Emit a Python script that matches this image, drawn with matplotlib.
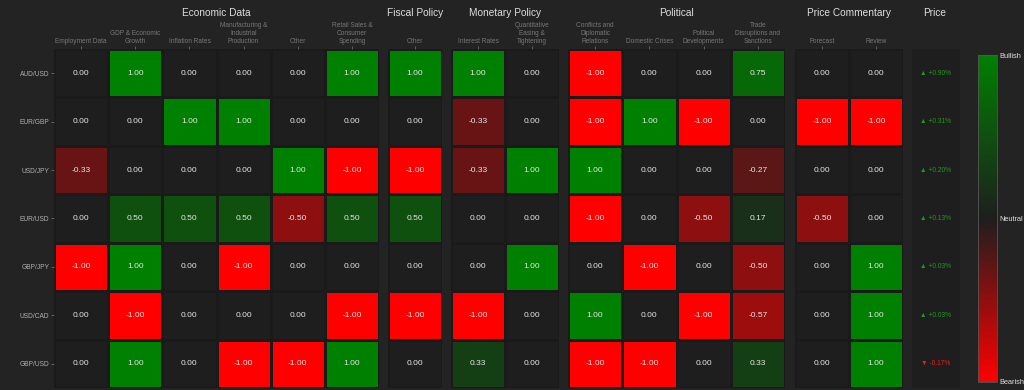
import numpy as np
import matplotlib
matplotlib.use('Agg')
import matplotlib.pyplot as plt
from matplotlib.colors import LinearSegmentedColormap

plt.rcParams['font.family'] = ['Liberation Sans', 'DejaVu Sans']

pairs = ['AUD/USD', 'EUR/GBP', 'USD/JPY', 'EUR/USD', 'GBP/JPY', 'USD/CAD', 'GBP/USD']

groups = ['Economic Data', 'Fiscal Policy', 'Monetary Policy', 'Political', 'Price Commentary']
group_cols = [
    ['Employment Data', 'GDP & Economic\nGrowth', 'Inflation Rates',
     'Manufacturing &\nIndustrial\nProduction', 'Other', 'Retail Sales &\nConsumer\nSpending'],
    ['Other'],
    ['Interest Rates', 'Quantitative\nEasing &\nTightening'],
    ['Conflicts and\nDiplomatic\nRelations', 'Domestic Crises', 'Political\nDevelopments',
     'Trade\nDisruptions and\nSanctions'],
    ['Forecast', 'Review'],
]

economic = [[0, 1, 0, 0, 0, 1],
            [0, 0, 1, 1, 0, 0],
            [-0.33, 0, 0, 0, 1, -1],
            [0, 0.5, 0.5, 0.5, -0.5, 0.5],
            [-1, 1, 0, -1, 0, 0],
            [0, -1, 0, 0, 0, -1],
            [0, 1, 0, -1, -1, 1]]
fiscal = [[1], [0], [-1], [0.5], [0], [-1], [0]]
monetary = [[1, 0], [-0.33, 0], [-0.33, 1], [0, 0], [0, 1], [-1, 0], [0.33, 0]]
political = [[-1, 0, 0, 0.75],
             [-1, 1, -1, 0],
             [1, 0, 0, -0.27],
             [-1, 0, -0.5, 0.17],
             [0, -1, 0, -0.5],
             [1, 0, -1, -0.57],
             [-1, -1, 0, 0.33]]
commentary = [[0, 0], [-1, -1], [0, 0], [-0.5, 0], [0, 1], [0, 1], [0, 1]]
price_change = [0.90, 0.31, 0.20, 0.13, 0.03, 0.03, -0.17]

group_data = [economic, fiscal, monetary, political, commentary]

W, H = 1024, 390
bg = '#232323'
cell_bg = '#1e1e1e'
cmap = LinearSegmentedColormap.from_list('bb', ['#ff0000', '#1e1e1e', '#008000'])

fig = plt.figure(figsize=(W / 100, H / 100), dpi=100, facecolor=bg)


def px_axes(x0, x1, y0, y1):
    return fig.add_axes([x0 / W, 1 - y1 / H, (x1 - x0) / W, (y1 - y0) / H])


# pixel extents of each group panel
spans = [(54, 379), (388, 442), (451, 559), (568, 785), (795, 903)]
top, bottom = 49, 388

for gi, (name, cols, data, (x0, x1)) in enumerate(zip(groups, group_cols, group_data, spans)):
    ax = px_axes(x0, x1, top, bottom)
    arr = np.array(data, dtype=float)
    ax.set_facecolor(cell_bg)
    ax.pcolormesh(arr, cmap=cmap, vmin=-1, vmax=1, edgecolors='#1a1a1a', linewidth=0.8)
    ax.set_xlim(0, arr.shape[1])
    ax.set_ylim(arr.shape[0], 0)
    for r in range(arr.shape[0]):
        for c in range(arr.shape[1]):
            ax.text(c + 0.5, r + 0.5, f'{arr[r, c]:.2f}', ha='center', va='center',
                    color='#e6e6e6', fontsize=6)
    ax.xaxis.tick_top()
    ax.set_xticks(np.arange(arr.shape[1]) + 0.5)
    ax.set_xticklabels(cols, fontsize=4.7, color='#b0b0b0', linespacing=1.2)
    ax.set_yticks(np.arange(arr.shape[0]) + 0.5)
    ax.tick_params(colors='#777777', length=2, width=0.5, pad=1.5)
    ax.tick_params(axis='x', pad=0.8)
    if gi == 0:
        ax.set_yticklabels(pairs, fontsize=4.8, color='#b0b0b0')
    else:
        ax.set_yticks([])
    for s in ax.spines.values():
        s.set_visible(False)
    fig.text((x0 + x1) / 2 / W, 1 - 13 / H, name, ha='center', va='center',
             color='#dddddd', fontsize=7.3)

# price column
ax = px_axes(912, 960, top, bottom)
ax.set_facecolor(cell_bg)
ax.set_xlim(0, 1)
ax.set_ylim(len(pairs), 0)
for r, v in enumerate(price_change):
    if v >= 0:
        txt, col = f'\u25b2 +{v:.2f}%', '#1f9a1f'
    else:
        txt, col = f'\u25bc {v:.2f}%', '#ee1c1c'
    ax.text(0.5, r + 0.5, txt, ha='center', va='center', color=col, fontsize=4.8)
ax.set_xticks([])
ax.set_yticks([])
for s in ax.spines.values():
    s.set_visible(False)
fig.text(935 / W, 1 - 13 / H, 'Price', ha='center', va='center', color='#dddddd', fontsize=7.3)

# colorbar
cax = px_axes(978, 997, 55, 382)
sm = plt.cm.ScalarMappable(cmap=cmap, norm=plt.Normalize(-1, 1))
cb = fig.colorbar(sm, cax=cax)
cb.set_ticks([-1, 0, 1])
cb.set_ticklabels(['Bearish', 'Neutral', 'Bullish'])
cb.ax.tick_params(length=0, labelsize=5.3, labelcolor='#e0e0e0', pad=1.5)
cb.outline.set_edgecolor('#555555')
cb.outline.set_linewidth(0.6)

fig.savefig('out.png', dpi=100, facecolor=bg)
